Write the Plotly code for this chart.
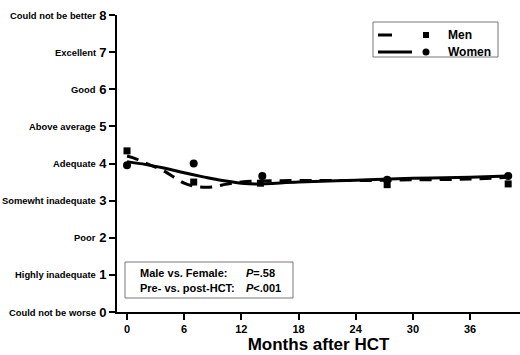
import plotly.graph_objects as go

# ---- data ----
men_pt_months = [0, 7, 14, 27.3, 40]
men_pt_values = [4.34, 3.5, 3.47, 3.43, 3.45]
women_pt_months = [0, 7, 14.2, 27.3, 40]
women_pt_values = [3.95, 4.0, 3.66, 3.56, 3.66]

men_fit_months = [0, 1, 2, 3, 4, 5, 6, 7, 8, 9, 10, 11, 12, 14, 18, 24, 30, 36, 40]
men_fit_values = [4.2, 4.12, 4.0, 3.9, 3.78, 3.62, 3.47, 3.39, 3.36, 3.37, 3.42, 3.47, 3.5, 3.53, 3.54, 3.54, 3.56, 3.58, 3.63]
women_fit_months = [0, 2, 4, 6, 8, 10, 12, 13.5, 18, 24, 30, 36, 40]
women_fit_values = [4.05, 3.97, 3.87, 3.75, 3.64, 3.54, 3.47, 3.45, 3.5, 3.55, 3.6, 3.63, 3.66]

y_tick_vals = [0, 1, 2, 3, 4, 5, 6, 7, 8]
y_tick_names = ["Could not be worse", "Highly inadequate", "Poor", "Somewht inadequate",
                "Adequate", "Above average", "Good", "Excellent", "Could not be better"]
x_tick_vals = [0, 6, 12, 18, 24, 30, 36]

# ---- layout geometry ----
W, H = 520, 355
ML, MR, MT, MB = 117, 0, 15, 43
PW, PH = W - ML - MR, H - MT - MB

def px(xp):
    return (xp - ML) / PW

def py(yp):
    return (H - MB - yp) / PH

FONT = "Liberation Sans, Arial, sans-serif"

fig = go.Figure()
fig.add_trace(go.Scatter(x=men_fit_months, y=men_fit_values, mode="lines",
                         line=dict(color="black", width=3, dash="12px,8px", shape="spline"),
                         showlegend=False, hoverinfo="skip"))
fig.add_trace(go.Scatter(x=women_fit_months, y=women_fit_values, mode="lines",
                         line=dict(color="black", width=3, shape="spline"),
                         showlegend=False, hoverinfo="skip"))
fig.add_trace(go.Scatter(x=men_pt_months, y=men_pt_values, mode="markers",
                         marker=dict(symbol="square", size=7, color="black"),
                         showlegend=False))
fig.add_trace(go.Scatter(x=women_pt_months, y=women_pt_values, mode="markers",
                         marker=dict(symbol="circle", size=8, color="black"),
                         showlegend=False))

shapes = []
annotations = []

# y category labels
for v, name in zip(y_tick_vals, y_tick_names):
    annotations.append(dict(x=0, xref="paper", y=v, yref="y", text=name, showarrow=False,
                            xanchor="right", yanchor="middle", xshift=-19,
                            font=dict(family=FONT, size=9.4, color="black", weight="bold")))

# legend (custom)
shapes.append(dict(type="rect", xref="paper", yref="paper", x0=px(373), x1=px(498),
                   y0=py(57), y1=py(22), line=dict(color="#777", width=1), fillcolor="white"))
shapes.append(dict(type="line", xref="paper", yref="paper", x0=px(378), x1=px(392),
                   y0=py(35), y1=py(35), line=dict(color="black", width=3)))
shapes.append(dict(type="line", xref="paper", yref="paper", x0=px(378), x1=px(412),
                   y0=py(52), y1=py(52), line=dict(color="black", width=3)))
shapes.append(dict(type="rect", xref="paper", yref="paper", x0=px(423), x1=px(429),
                   y0=py(38), y1=py(32), line=dict(width=0), fillcolor="black"))
shapes.append(dict(type="circle", xref="paper", yref="paper", x0=px(422.5), x1=px(429.5),
                   y0=py(55.5), y1=py(48.5), line=dict(width=0), fillcolor="black"))
for yy, lab in [(35, "Men"), (52, "Women")]:
    annotations.append(dict(x=px(446), y=py(yy), xref="paper", yref="paper", text=lab,
                            showarrow=False, xanchor="left", yanchor="middle",
                            font=dict(family=FONT, size=12, color="black", weight="bold")))

# stats box
shapes.append(dict(type="rect", xref="paper", yref="paper", x0=px(125), x1=px(293),
                   y0=py(298), y1=py(262), line=dict(color="#777", width=1), fillcolor="white"))
for yy, lab, pv in [(273, "Male vs. Female:", "<i>P</i>=.58"),
                    (288, "Pre- vs. post-HCT:", "<i>P</i>&lt;.001")]:
    annotations.append(dict(x=px(138), y=py(yy), xref="paper", yref="paper", text=lab,
                            showarrow=False, xanchor="left", yanchor="middle",
                            font=dict(family=FONT, size=11, color="black", weight="bold")))
    annotations.append(dict(x=px(244), y=py(yy), xref="paper", yref="paper", text=pv,
                            showarrow=False, xanchor="left", yanchor="middle",
                            font=dict(family=FONT, size=11, color="black", weight="bold")))

fig.update_layout(
    width=W, height=H,
    margin=dict(l=ML, r=MR, t=MT, b=MB, pad=0),
    paper_bgcolor="white", plot_bgcolor="white",
    showlegend=False,
    shapes=shapes, annotations=annotations,
    xaxis=dict(range=[-1.05, 41.24], tickvals=x_tick_vals, showgrid=False, zeroline=False,
               showline=True, linecolor="black", linewidth=2,
               ticks="outside", ticklen=6, tickwidth=2, tickcolor="black",
               tickfont=dict(family=FONT, size=11, color="black", weight="bold"),
               title=dict(text="Months after HCT", standoff=4,
                          font=dict(family=FONT, size=17, color="black", weight="bold"))),
    yaxis=dict(range=[0, 8], tickvals=y_tick_vals, showgrid=False, zeroline=False,
               showline=True, linecolor="black", linewidth=2,
               ticks="outside", ticklen=6, tickwidth=2, tickcolor="black",
               tickfont=dict(family=FONT, size=13, color="black", weight="bold")),
)

fig.write_html("out.html", config={"displayModeBar": False},
               post_script="document.body.style.margin='0';document.body.style.padding='0';")
